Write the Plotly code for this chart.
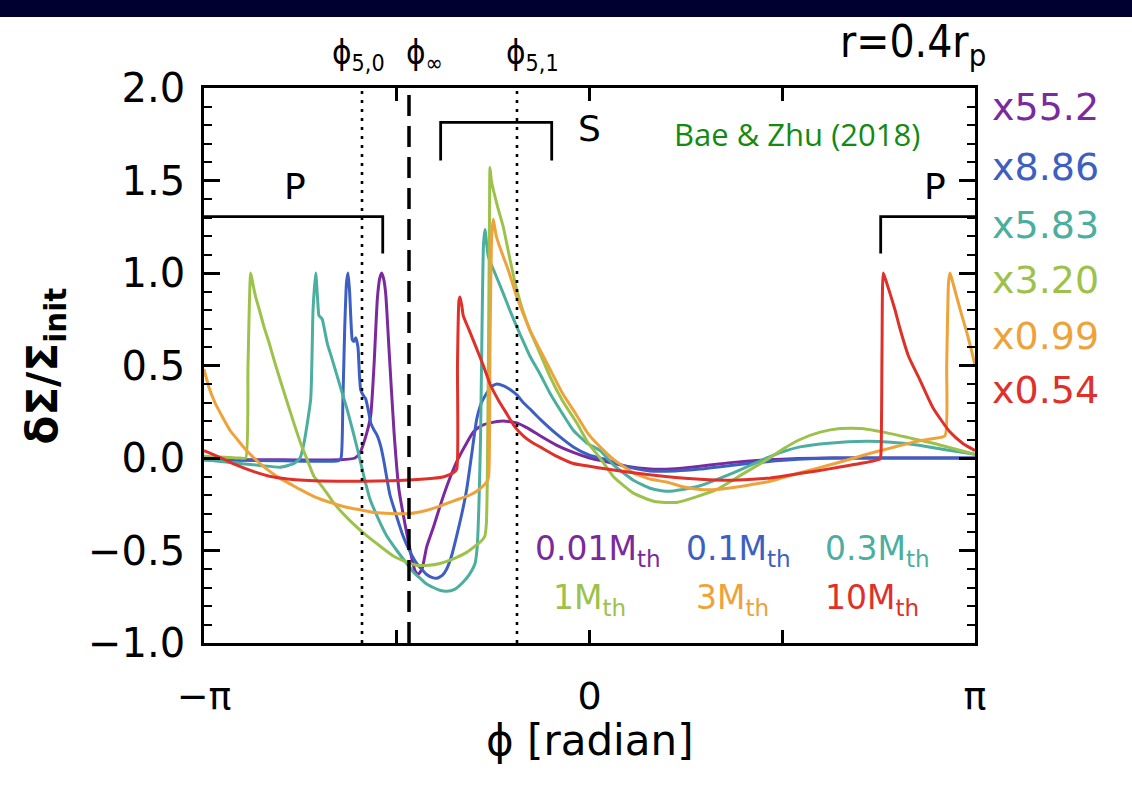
import math
import plotly.graph_objects as go

PI = math.pi

# ---------------- data (phi in radian, dSigma/Sigma_init normalised) ----------------
phi_p001 = [-3.142, -2.5, -2.033, -1.911, -1.87, -1.822, -1.783, -1.756, -1.729, -1.710, -1.694,
            -1.678, -1.661, -1.634, -1.593, -1.553, -1.50, -1.455, -1.422, -1.398, -1.365,
            -1.327, -1.27, -1.218, -1.15, -1.082, -1.01, -0.947, -0.88, -0.811, -0.705,
            -0.593, -0.50, -0.403, -0.27, -0.132, 0.0, 0.140, 0.30, 0.493, 0.70, 0.901,
            1.15, 1.444, 1.70, 1.985, 3.142]
val_p001 = [-0.01, -0.01, -0.01, 0.0, 0.03, 0.12, 0.23, 0.5, 0.86, 0.97, 1.0,
            0.97, 0.89, 0.59, 0.14, -0.17, -0.37, -0.52, -0.61, -0.63, -0.6,
            -0.48, -0.37, -0.26, -0.13, -0.02, 0.07, 0.14, 0.175, 0.19, 0.2,
            0.19, 0.16, 0.12, 0.07, 0.03, 0.0, -0.02, -0.045, -0.06, -0.058, -0.045,
            -0.025, -0.01, -0.003, 0.0, 0.0]

phi_p01 = [-3.142, -2.5, -2.049, -2.025, -2.010, -1.995, -1.980, -1.968, -1.955, -1.946,
           -1.933, -1.920, -1.905, -1.887, -1.875, -1.865, -1.845, -1.824, -1.80, -1.783,
           -1.755, -1.729, -1.70, -1.675, -1.626, -1.57, -1.52, -1.46, -1.408, -1.327,
           -1.285, -1.245, -1.20, -1.164, -1.12, -1.082, -1.04, -1.001, -0.96, -0.919,
           -0.88, -0.838, -0.80, -0.756, -0.70, -0.648, -0.59, -0.540, -0.47, -0.403,
           -0.27, -0.132, 0.0, 0.140, 0.30, 0.493, 0.70, 0.901, 1.15, 1.444, 1.70, 1.985, 3.142]
val_p01 = [-0.01, -0.015, -0.015, 0.0, 0.3, 0.7, 0.95, 1.0, 0.9, 0.77,
           0.64, 0.63, 0.65, 0.6, 0.45, 0.37, 0.34, 0.32, 0.25, 0.19,
           0.15, 0.12, 0.06, -0.02, -0.2, -0.32, -0.42, -0.51, -0.57, -0.63,
           -0.645, -0.65, -0.635, -0.6, -0.52, -0.42, -0.3, -0.17, 0.02, 0.21,
           0.3, 0.35, 0.385, 0.4, 0.39, 0.37, 0.34, 0.3, 0.255, 0.21,
           0.13, 0.06, 0.015, -0.01, -0.045, -0.07, -0.07, -0.06, -0.04, -0.02, -0.007, 0.0, 0.0]

phi_p03 = [-3.142, -2.848, -2.685, -2.522, -2.408, -2.359, -2.327, -2.272, -2.253, -2.231,
           -2.215, -2.205, -2.19, -2.178, -2.137, -2.10, -2.055, -2.015, -1.974, -1.93,
           -1.892, -1.838, -1.79, -1.72, -1.653, -1.57, -1.490, -1.43, -1.381, -1.33,
           -1.273, -1.22, -1.164, -1.10, -1.029, -0.98, -0.933, -0.915, -0.901, -0.888,
           -0.876, -0.864, -0.852, -0.825, -0.784, -0.74, -0.703, -0.65, -0.593, -0.54,
           -0.485, -0.40, -0.322, -0.23, -0.132, -0.02, 0.086, 0.20, 0.357, 0.50,
           0.629, 0.76, 0.901, 1.04, 1.172, 1.31, 1.444, 1.58, 1.716, 1.95,
           2.259, 2.46, 2.667, 2.90, 3.142]
val_p03 = [-0.01, -0.03, -0.04, -0.05, -0.03, 0.0, 0.08, 0.32, 0.8, 1.0,
           0.85, 0.77, 0.76, 0.75, 0.62, 0.54, 0.44, 0.35, 0.26, 0.15,
           0.05, -0.1, -0.22, -0.33, -0.42, -0.5, -0.57, -0.62, -0.65, -0.68,
           -0.7, -0.715, -0.72, -0.71, -0.67, -0.63, -0.57, -0.48, -0.25, 0.1,
           0.7, 1.15, 1.235, 1.09, 1.02, 0.95, 0.89, 0.8, 0.71, 0.63,
           0.55, 0.45, 0.35, 0.25, 0.15, 0.08, 0.04, -0.04, -0.12, -0.165,
           -0.18, -0.17, -0.15, -0.115, -0.08, -0.04, 0.0, 0.035, 0.06, 0.08,
           0.09, 0.085, 0.07, 0.045, 0.02]

phi_p1 = [-3.142, -2.848, -2.802, -2.783, -2.761, -2.74, -2.720, -2.69, -2.653, -2.61,
          -2.571, -2.52, -2.463, -2.41, -2.354, -2.30, -2.245, -2.196, -2.14, -2.088,
          -1.95, -1.816, -1.70, -1.599, -1.50, -1.408, -1.31, -1.218, -1.11, -1.001,
          -0.92, -0.87, -0.852, -0.84, -0.833, -0.823, -0.815, -0.811, -0.80, -0.784,
          -0.75, -0.703, -0.65, -0.593, -0.54, -0.485, -0.40, -0.322, -0.22, -0.104,
          -0.01, 0.086, 0.194, 0.357, 0.53, 0.711, 0.87, 1.037, 1.24, 1.444,
          1.58, 1.716, 1.88, 2.042, 2.22, 2.395, 2.60, 2.802, 3.0, 3.142]
val_p1 = [0.01, 0.0, 0.0, 0.5, 1.0, 0.93, 0.87, 0.8, 0.71, 0.62,
          0.53, 0.42, 0.3, 0.19, 0.08, -0.01, -0.1, -0.14, -0.19, -0.24,
          -0.34, -0.42, -0.48, -0.53, -0.56, -0.58, -0.58, -0.57, -0.545, -0.51,
          -0.47, -0.44, -0.42, -0.35, -0.13, 0.6, 1.3, 1.57, 1.5, 1.45,
          1.36, 1.25, 1.08, 0.91, 0.79, 0.69, 0.56, 0.44, 0.31, 0.19,
          0.08, 0.0, -0.1, -0.19, -0.235, -0.24, -0.21, -0.17, -0.09, -0.01,
          0.05, 0.1, 0.14, 0.16, 0.16, 0.14, 0.11, 0.08, 0.045, 0.02]

phi_p3 = [-3.142, -3.10, -3.053, -2.99, -2.930, -2.87, -2.808, -2.75, -2.685, -2.60,
          -2.522, -2.44, -2.359, -2.24, -2.115, -1.99, -1.870, -1.75, -1.626, -1.463,
          -1.34, -1.218, -1.10, -0.974, -0.90, -0.838, -0.822, -0.811, -0.797, -0.784,
          -0.760, -0.72, -0.675, -0.63, -0.593, -0.54, -0.485, -0.40, -0.322, -0.22,
          -0.104, -0.01, 0.086, 0.20, 0.357, 0.50, 0.629, 0.76, 0.901, 1.04,
          1.172, 1.31, 1.444, 1.58, 1.716, 2.0, 2.259, 2.46, 2.667, 2.80,
          2.897, 2.911, 2.926, 2.938, 2.96, 2.993, 3.03, 3.074, 3.11, 3.142]
val_p3 = [0.48, 0.38, 0.3, 0.22, 0.15, 0.1, 0.05, 0.01, -0.03, -0.075,
          -0.11, -0.14, -0.17, -0.21, -0.24, -0.265, -0.28, -0.295, -0.3, -0.3,
          -0.285, -0.26, -0.23, -0.2, -0.17, -0.13, -0.1, 0.6, 1.2, 1.29,
          1.2, 1.12, 1.04, 0.95, 0.87, 0.78, 0.69, 0.58, 0.48, 0.35,
          0.23, 0.13, 0.06, -0.01, -0.08, -0.115, -0.13, -0.155, -0.17, -0.17,
          -0.16, -0.145, -0.13, -0.105, -0.08, -0.03, 0.02, 0.055, 0.09, 0.105,
          0.12, 0.5, 0.95, 1.0, 0.95, 0.87, 0.78, 0.68, 0.59, 0.5]

phi_p10 = [-3.142, -3.0, -2.870, -2.73, -2.598, -2.46, -2.327, -2.055, -1.512, -1.273,
           -1.18, -1.110, -1.082, -1.076, -1.064, -1.055, -1.04, -1.029, -0.98, -0.919,
           -0.86, -0.811, -0.74, -0.675, -0.61, -0.540, -0.47, -0.403, -0.27, -0.132,
           0.0, 0.140, 0.357, 0.62, 0.901, 1.17, 1.444, 1.65, 1.852, 2.03,
           2.204, 2.367, 2.375, 2.384, 2.394, 2.42, 2.449, 2.49, 2.530, 2.60,
           2.694, 2.80, 2.938, 3.04, 3.142]
val_p10 = [0.04, 0.0, -0.04, -0.075, -0.1, -0.113, -0.12, -0.125, -0.12, -0.11,
           -0.1, -0.08, -0.06, 0.5, 0.85, 0.87, 0.82, 0.77, 0.69, 0.59,
           0.49, 0.4, 0.31, 0.24, 0.17, 0.12, 0.085, 0.06, 0.01, -0.03,
           -0.045, -0.06, -0.08, -0.1, -0.115, -0.12, -0.11, -0.09, -0.07, -0.05,
           -0.03, -0.005, 0.02, 0.6, 1.0, 0.95, 0.89, 0.8, 0.7, 0.55,
           0.42, 0.27, 0.14, 0.08, 0.04]

series_labels = ["0.01M<sub>th</sub>", "0.1M<sub>th</sub>", "0.3M<sub>th</sub>",
                 "1M<sub>th</sub>", "3M<sub>th</sub>", "10M<sub>th</sub>"]
scale_labels = ["x55.2", "x8.86", "x5.83", "x3.20", "x0.99", "x0.54"]
colors = ["#7b2a9e", "#3d5fc2", "#4cae9f", "#9dc24c", "#eea23a", "#e0302a"]

# characteristic angles
phi_50 = -1.854
phi_inf = -1.471
phi_51 = -0.591

# bracket shapes (x, y)
bracketP_left_x = [-PI, -1.685, -1.685]
bracketP_left_y = [1.305, 1.305, 1.105]
bracketS_x = [-1.213, -1.213, -0.308, -0.308]
bracketS_y = [1.608, 1.814, 1.814, 1.608]
bracketP_right_x = [2.373, 2.373, PI]
bracketP_right_y = [1.105, 1.305, 1.305]

x_tickvals = [-PI, -PI / 2, 0, PI / 2, PI]
x_ticktext = ["\u2212\u03c0", "", "0", "", "\u03c0"]
y_tickvals = [-1, -0.5, 0, 0.5, 1, 1.5, 2]
y_ticktext = ["\u22121.0", "\u22120.5", "0.0", "0.5", "1.0", "1.5", "2.0"]

# ---------------- figure ----------------
fig = go.Figure()

all_x = [phi_p001, phi_p01, phi_p03, phi_p1, phi_p3, phi_p10]
all_y = [val_p001, val_p01, val_p03, val_p1, val_p3, val_p10]

for xs, ys, c, lab in zip(all_x, all_y, colors, series_labels):
    fig.add_trace(go.Scatter(x=xs, y=ys, mode="lines",
                             line=dict(color=c, width=3, shape="spline", smoothing=0.5),
                             name=lab, showlegend=False, hoverinfo="skip"))

# vertical reference lines
for xv, dash, w in [(phi_50, "3px,6px", 2.6), (phi_51, "3px,6px", 2.6), (phi_inf, "21px,10px", 3.5)]:
    fig.add_trace(go.Scatter(x=[xv, xv], y=[-1, 2], mode="lines",
                             line=dict(color="black", width=w, dash=dash),
                             showlegend=False, hoverinfo="skip"))

# brackets
for bx, by in [(bracketP_left_x, bracketP_left_y), (bracketS_x, bracketS_y),
               (bracketP_right_x, bracketP_right_y)]:
    fig.add_trace(go.Scatter(x=bx, y=by, mode="lines", line=dict(color="black", width=2.8),
                             showlegend=False, hoverinfo="skip"))

ann = []
txtfont = "DejaVu Sans"
narrow = "DejaVu Sans Condensed, Liberation Sans Narrow, DejaVu Sans"
PHI = "\u03d5"

# bracket labels
ann.append(dict(x=-2.40, y=1.47, text="P", font=dict(family=txtfont, size=36, color="black")))
ann.append(dict(x=2.815, y=1.47, text="P", font=dict(family=txtfont, size=36, color="black")))
ann.append(dict(x=0.0, y=1.78, text="S", font=dict(family=txtfont, size=36, color="black")))

# top labels
ann.append(dict(x=phi_50 - 0.03, y=1.06, yref="paper", text=PHI + "<sub>5,0</sub>",
                font=dict(family=narrow, size=33, color="black")))
ann.append(dict(x=phi_inf + 0.13, y=1.06, yref="paper", text=PHI + "<sub>\u221e</sub>",
                font=dict(family=narrow, size=33, color="black")))
ann.append(dict(x=phi_51 + 0.13, y=1.06, yref="paper", text=PHI + "<sub>5,1</sub>",
                font=dict(family=narrow, size=33, color="black")))
ann.append(dict(x=2.64, y=1.078, yref="paper", text="r=0.4r<sub>p</sub>",
                font=dict(family=narrow, size=44, color="black")))

# citation
ann.append(dict(x=1.69, y=1.75, text="Bae &amp; Zhu (2018)",
                font=dict(family="Open Sans, Noto Sans", size=31, color="#138a13")))

# right-side scale factors
ys_right = [0.966, 0.858, 0.753, 0.654, 0.553, 0.456]
for lab, c, yy in zip(scale_labels, colors, ys_right):
    ann.append(dict(x=1.019, y=yy, xref="paper", yref="paper", text=lab,
                    xanchor="left", font=dict(family=txtfont, size=38, color=c)))

# in-plot series labels
leg_pos = [(0.069, -0.5), (1.218, -0.5), (2.351, -0.5), (0.004, -0.765), (1.169, -0.765), (2.302, -0.765)]
for lab, c, (lx, ly) in zip(series_labels, colors, leg_pos):
    ann.append(dict(x=lx, y=ly, text=lab, font=dict(family=txtfont, size=33, color=c)))

# axis titles
ann.append(dict(x=0.5, y=-0.175, xref="paper", yref="paper", text=PHI + " [radian]",
                font=dict(family=txtfont, size=42, color="black")))
ann.append(dict(x=-0.205, y=0.5, xref="paper", yref="paper",
                text="<b>\u03b4\u03a3/\u03a3<sub>init</sub></b>",
                textangle=-90, font=dict(family=txtfont, size=42, color="black")))

for a in ann:
    a.setdefault("xref", "x")
    a.setdefault("yref", "y")
    a.setdefault("xanchor", "center")
    a.setdefault("yanchor", "middle")
    a["showarrow"] = False

fig.update_layout(
    width=1132, height=800, autosize=False,
    margin=dict(l=204, r=157, t=88, b=157),
    paper_bgcolor="white", plot_bgcolor="white",
    annotations=ann,
    shapes=[dict(type="rect", xref="paper", yref="paper", x0=-0.3, x1=1.3,
                 y0=1 + (88 - 17) / 555, y1=1 + 88 / 555 + 0.01,
                 fillcolor="#000030", line=dict(width=0), layer="above")],
)

fig.update_xaxes(range=[-PI, PI], tickvals=x_tickvals, ticktext=x_ticktext,
                 ticks="inside", ticklen=13, tickwidth=2.5, tickcolor="black",
                 showline=True, linewidth=2.6, linecolor="black", mirror="ticks",
                 showgrid=False, zeroline=False, ticklabelstandoff=18,
                 tickfont=dict(family=txtfont, size=38, color="black"))
fig.update_yaxes(range=[-1, 2], tickvals=y_tickvals, ticktext=y_ticktext,
                 ticks="inside", ticklen=16, tickwidth=2.5, tickcolor="black",
                 minor=dict(dtick=0.1, ticks="inside", ticklen=8, tickwidth=2, tickcolor="black"),
                 showline=True, linewidth=2.6, linecolor="black", mirror="ticks",
                 showgrid=False, zeroline=False, ticklabelstandoff=8,
                 tickfont=dict(family=txtfont, size=40, color="black"))

fig.write_html("out.html")
